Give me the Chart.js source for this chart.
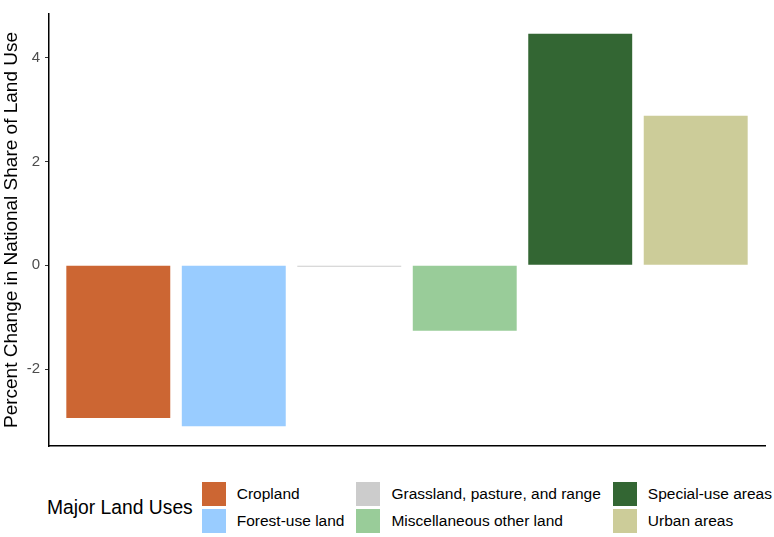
<!DOCTYPE html>
<html>
<head>
<meta charset="utf-8">
<script src="https://cdn.jsdelivr.net/npm/chart.js@4.4.0/dist/chart.umd.min.js"></script>
<style>
  body { margin: 0; background: #fff; font-family: "Liberation Sans", Arial, sans-serif; }
  #wrap { position: relative; width: 774px; height: 537px; }
  #box { position: absolute; left: 0; top: 0; width: 774px; height: 460px; }
  #legend { position: absolute; left: 47px; top: 482px; display: flex; align-items: center; }
  #legend .title { font-size: 19.3px; color: #000; margin-right: 9px; white-space: nowrap; }
  #legend .grid { display: grid; grid-template-rows: 24px 24px; grid-auto-flow: column;
                  row-gap: 3px; column-gap: 12px; }
  #legend .item { display: flex; align-items: center; font-size: 15.5px; color: #000; white-space: nowrap; }
  #legend .key { width: 24px; height: 24px; margin-right: 11px; }
</style>
</head>
<body>
<div id="wrap">
  <div id="box"><canvas id="graphCanvas"></canvas></div>
  <div id="legend"></div>
</div>
<script>
// categories and values
let landUses = ['Cropland', 'Forest-use land', 'Grassland, pasture, and range',
                'Miscellaneous other land', 'Special-use areas', 'Urban areas'];
let pctChange = [-2.94, -3.10, -0.03, -1.26, 4.46, 2.88];
let yTicks = [-2, 0, 2, 4];
let legendTitle = 'Major Land Uses';
let yTitle = 'Percent Change in National Share of Land Use';

// palette, one per land use
let colors = ['#CC6633', '#99CCFF', '#CCCCCC', '#99CC99', '#336633', '#CCCC99'];

Chart.defaults.font.family = '"Liberation Sans", Arial, sans-serif';

let ctx = document.getElementById('graphCanvas').getContext('2d');
let chart = new Chart(ctx, {
    type: 'bar',
    data: {
        datasets: [{
            data: pctChange.map(function(v, i) { return { x: i + 1, y: v }; }),
            backgroundColor: colors,
            borderWidth: 0,
            categoryPercentage: 1,
            barPercentage: 0.9
        }]
    },
    options: {
        responsive: true,
        maintainAspectRatio: false,
        animation: false,
        layout: { padding: { top: 3, right: 9, bottom: 8, left: 0 } },
        plugins: { legend: { display: false }, tooltip: { enabled: false } },
        scales: {
            x: {
                type: 'linear',
                min: 0.4,
                max: 6.6,
                offset: false,
                ticks: { display: false },
                grid: { display: false, offset: false },
                border: { display: true, color: '#000', width: 1.5 },
                afterBuildTicks: function(axis) {
                    axis.ticks = landUses.map(function(_, i) { return { value: i + 1 }; });
                },
                afterFit: function(axis) { axis.height = 0; }
            },
            y: {
                min: -3.48,
                max: 4.84,
                afterBuildTicks: function(axis) {
                    axis.ticks = yTicks.map(function(v) { return { value: v }; });
                },
                afterFit: function(axis) { axis.width = 49; },
                ticks: {
                    color: '#4d4d4d',
                    font: { size: 15 },
                    padding: 5,
                    callback: function(v) { return String(v); }
                },
                grid: { drawOnChartArea: false, drawTicks: true, tickLength: 4, color: '#333' },
                border: { display: true, color: '#000', width: 1.5 },
                title: {
                    display: true,
                    text: yTitle,
                    color: '#000',
                    font: { size: 19 },
                    padding: { top: 0, bottom: 0 }
                }
            }
        }
    }
});

// legend, column by column like the original
let legend = document.getElementById('legend');
let t = document.createElement('div');
t.className = 'title';
t.textContent = legendTitle;
legend.appendChild(t);
let grid = document.createElement('div');
grid.className = 'grid';
landUses.forEach(function(name, i) {
    let item = document.createElement('div');
    item.className = 'item';
    let key = document.createElement('span');
    key.className = 'key';
    key.style.background = colors[i];
    item.appendChild(key);
    item.appendChild(document.createTextNode(name));
    grid.appendChild(item);
});
legend.appendChild(grid);
</script>
</body>
</html>
